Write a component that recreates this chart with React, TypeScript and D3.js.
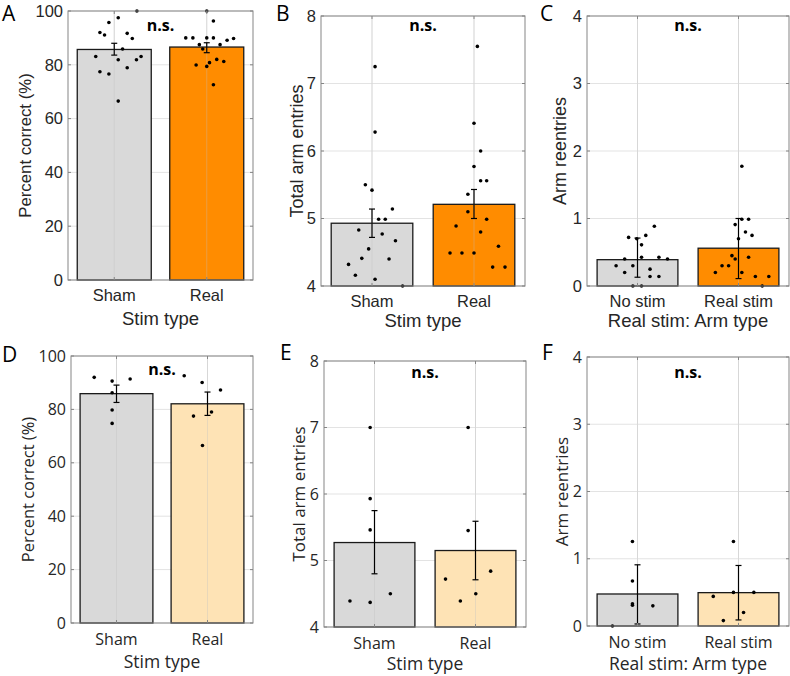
import React from 'react';
import * as d3 from 'd3';

// categories
const stimCats = ['Sham', 'Real'];
const armCats = ['No stim', 'Real stim'];

// A: percent correct, main cohort
const aMeans = [85.7, 86.6];
const aLow = [83.6, 84.5];
const aHigh = [88.0, 88.2];
const aSham = [100, 97.5, 95.7, 92, 91.1, 91.7, 89.8, 85.9, 83.1, 81.9, 81.9, 83.1, 77.4, 76.6, 78.9, 66.5];
const aShamJit = [0.245, 0.043, -0.058, -0.155, -0.105, 0.14, 0.195, 0.09, -0.2, 0.043, 0.24, 0.29, -0.155, -0.058, 0.14, 0.043];
const aReal = [100, 96.3, 90, 90, 90, 90, 89.1, 89.8, 87.5, 87.5, 85.9, 79.9, 79.4, 80.8, 82, 81.2, 72.6];
const aRealJit = [0, 0.072, -0.227, -0.15, 0, 0.072, 0.22, 0.29, -0.08, 0.144, -0.043, -0.115, 0, 0.03, 0.108, 0.184, 0.072];

// B: total arm entries, main cohort
const bMeans = [4.93, 5.21];
const bLow = [4.72, 5.0];
const bHigh = [5.14, 5.43];
const bSham = [7.25, 6.28, 5.5, 5.42, 5.14, 4.99, 4.99, 4.83, 4.77, 4.67, 4.55, 4.41, 4.4, 4.32, 4.16, 4.1, 4.0];
const bShamJit = [0.03, 0.03, -0.065, 0, 0.2, 0.065, 0.13, -0.13, 0.1, 0.23, -0.033, -0.1, 0.167, -0.23, -0.163, 0.03, 0.3];
const bReal = [7.55, 6.41, 6.0, 5.77, 5.56, 5.56, 5.36, 5.1, 4.89, 4.99, 4.8, 4.49, 4.49, 4.49, 4.59, 4.28, 4.28];
const bRealJit = [0.033, 0, 0.065, 0, 0.065, 0.124, -0.06, -0.06, -0.176, 0.124, 0.065, -0.235, -0.118, 0, 0.24, 0.183, 0.304];

// C: arm reentries, main cohort
const cMeans = [0.39, 0.56];
const cLow = [0.13, 0.11];
const cHigh = [0.71, 1.0];
const cNo = [0.885, 0.72, 0.7, 0.75, 0.61, 0.4, 0.425, 0.425, 0.4, 0.3, 0.3, 0.25, 0.2, 0.14, 0.14, 0, 0];
const cNoJit = [0.167, -0.088, -0.007, 0.082, 0.04, -0.127, 0.04, 0.212, 0.297, -0.212, -0.046, 0.124, -0.127, 0.124, 0.212, -0.046, 0.04];
const cReal = [1.775, 0.99, 0.99, 0.91, 0.8, 0.75, 0.7, 0.45, 0.4, 0.425, 0.3, 0.3, 0.2, 0.2, 0.14, 0.14, 0];
const cRealJit = [0.033, 0.033, 0.1, -0.033, 0.069, 0.134, 0, -0.065, -0.033, 0.1, -0.163, -0.098, -0.229, 0.033, 0.167, 0.3, 0.235];

// D: percent correct, second cohort
const dMeans = [85.9, 82.1];
const dLow = [82.6, 77.75];
const dHigh = [89.1, 86.5];
const dSham = [92, 90.6, 91.4, 86.25, 79.75, 74.75];
const dShamJit = [-0.245, -0.048, 0.15, -0.048, -0.048, -0.048];
const dReal = [92.6, 90.1, 87.25, 77.5, 79, 66.5];
const dRealJit = [-0.256, -0.059, 0.143, -0.154, 0.044, -0.055];

// E: total arm entries, second cohort
const eMeans = [5.27, 5.15];
const eLow = [4.8, 4.71];
const eHigh = [5.75, 5.59];
const eSham = [7.0, 5.93, 5.46, 4.5, 4.39, 4.37];
const eShamJit = [-0.043, -0.043, -0.043, 0.157, -0.243, -0.043];
const eReal = [7.0, 5.45, 4.84, 4.72, 4.5, 4.39];
const eRealJit = [-0.073, -0.073, 0.15, -0.297, 0.003, -0.15];

// F: arm reentries, second cohort
const fMeans = [0.476, 0.496];
const fLow = [0.03, 0.09];
const fHigh = [0.91, 0.9];
const fNo = [1.256, 0.67, 0.33, 0.31, 0.3, 0];
const fNoJit = [-0.05, -0.05, -0.05, -0.05, 0.152, -0.248];
const fReal = [1.256, 0.5, 0.5, 0.44, 0.2, 0.08];
const fRealJit = [-0.05, -0.05, 0.152, -0.25, 0.05, -0.15];

const pctTicks = [0, 20, 40, 60, 80, 100];
const entryTicks = [4, 5, 6, 7, 8];
const reentryTicks = [0, 1, 2, 3, 4];

const GRAY = '#d9d9d9';
const ORANGE = '#ff8c00';
const BEIGE = '#fee3b5';

type PanelProps = {
  letter: string;
  lx: number; ly: number;
  x0: number; x1: number; y0: number; y1: number;
  yDomain: [number, number];
  yTicks: number[];
  cats: string[];
  means: number[];
  low: number[];
  high: number[];
  pts: number[][];
  jit: number[][];
  fills: string[];
  ylabel: string;
  ylabelX: number;
  ylabelSize: number;
  xlabel: string;
  font: string;
  tickSize: number;
  labelSize: number;
  tickDy: number;
  labelDy: number;
  nsY: number;
};

function Panel(p: PanelProps) {
  const x = d3.scaleLinear().domain([0.5, 2.5]).range([p.x0, p.x1]);
  const y = d3.scaleLinear().domain(p.yDomain).range([p.y1, p.y0]);
  // bar width 0.8 category units
  const bw = x(1.3) - x(0.5);
  const tl = 3;
  const ink = '#262626';
  return (
    <g>
      {/* grid */}
      {p.yTicks.map((t) => (
        <line key={'gy' + t} x1={p.x0} x2={p.x1} y1={y(t)} y2={y(t)} stroke="#e3e3e3" strokeWidth={1} />
      ))}
      {[1, 2].map((c) => (
        <line key={'gx' + c} x1={x(c)} x2={x(c)} y1={p.y0} y2={p.y1} stroke="#e3e3e3" strokeWidth={1} />
      ))}
      {/* bars */}
      {p.means.map((m, i) => (
        <rect key={'b' + i} x={x(i + 1) - bw / 2} y={y(m)} width={bw} height={y(p.yDomain[0]) - y(m)}
          fill={p.fills[i]} stroke="#1a1a1a" strokeWidth={1.3} />
      ))}
      {/* gridlines show faintly through bars in the original */}
      {[1, 2].map((c) => (
        <line key={'gxo' + c} x1={x(c)} x2={x(c)} y1={p.y0} y2={p.y1} stroke="#bfbfbf" strokeOpacity={0.35} strokeWidth={1} />
      ))}
      {/* points */}
      {p.pts.map((arr, i) =>
        arr.map((v, j) => (
          <circle key={'p' + i + '-' + j} cx={x(i + 1 + p.jit[i][j])} cy={y(v)} r={1.8} fill="#000" />
        ))
      )}
      {/* error bars */}
      {p.means.map((_, i) => (
        <g key={'e' + i} stroke="#000" strokeWidth={1.2}>
          <line x1={x(i + 1)} x2={x(i + 1)} y1={y(p.low[i])} y2={y(p.high[i])} />
          <line x1={x(i + 1) - 3} x2={x(i + 1) + 3} y1={y(p.low[i])} y2={y(p.low[i])} />
          <line x1={x(i + 1) - 3} x2={x(i + 1) + 3} y1={y(p.high[i])} y2={y(p.high[i])} />
        </g>
      ))}
      {/* box and ticks */}
      <rect x={p.x0} y={p.y0} width={p.x1 - p.x0} height={p.y1 - p.y0} fill="none" stroke="#858585" strokeWidth={1} />
      {p.yTicks.map((t) => (
        <g key={'ty' + t} stroke="#858585">
          <line x1={p.x0} x2={p.x0 + tl} y1={y(t)} y2={y(t)} />
          <line x1={p.x1} x2={p.x1 - tl} y1={y(t)} y2={y(t)} />
        </g>
      ))}
      {[1, 2].map((c) => (
        <g key={'tx' + c} stroke="#858585">
          <line x1={x(c)} x2={x(c)} y1={p.y1} y2={p.y1 - tl} />
          <line x1={x(c)} x2={x(c)} y1={p.y0} y2={p.y0 + tl} />
        </g>
      ))}
      {/* tick labels */}
      {p.yTicks.map((t) => (
        <text key={'ly' + t} x={p.x0 - 5} y={y(t)} dy="0.35em" textAnchor="end"
          fontFamily={p.font} fontSize={p.tickSize} fill={ink}>{t}</text>
      ))}
      {p.cats.map((c, i) => (
        <text key={'lx' + i} x={x(i + 1)} y={p.y1 + p.tickDy} textAnchor="middle"
          fontFamily={p.font} fontSize={p.tickSize} fill={ink}>{c}</text>
      ))}
      <text x={(p.x0 + p.x1) / 2} y={p.y1 + p.labelDy} textAnchor="middle"
        fontFamily={p.font} fontSize={p.labelSize} fill={ink}>{p.xlabel}</text>
      <text transform={`translate(${p.ylabelX},${(p.y0 + p.y1) / 2}) rotate(-90)`} dy="0.35em" textAnchor="middle"
        fontFamily={p.font} fontSize={p.ylabelSize} fill={ink}>{p.ylabel}</text>
      <text x={x(1.5)} y={p.nsY} textAnchor="middle" fontFamily="'Open Sans', sans-serif"
        fontWeight="bold" fontSize={16} fill="#000">n.s.</text>
      <text x={p.lx} y={p.ly} fontFamily="'Open Sans', sans-serif" fontSize={21} fill="#000">{p.letter}</text>
    </g>
  );
}

export default function App() {
  const top = { font: "'Liberation Sans', Arial, sans-serif", tickSize: 16.5, labelSize: 18.5, ylabelSize: 18, tickDy: 21, labelDy: 45, nsY: 31 };
  const bot = { font: "'Open Sans', sans-serif", tickSize: 16, labelSize: 17.5, ylabelSize: 17, tickDy: 22, labelDy: 45 };
  return (
    <svg width={790} height={676} style={{ position: 'absolute', left: 0, top: 0, background: '#fff' }}>
      <Panel {...top} letter="A" lx={2} ly={21} x0={68} x1={253} y0={11} y1={280} yDomain={[0, 100]} yTicks={pctTicks}
        cats={stimCats} means={aMeans} low={aLow} high={aHigh} pts={[aSham, aReal]} jit={[aShamJit, aRealJit]}
        fills={[GRAY, ORANGE]} ylabel="Percent correct (%)" ylabelX={25} ylabelSize={16.8} xlabel="Stim type" />
      <Panel {...top} letter="B" lx={276} ly={21} x0={321} x1={525} y0={16} y1={286} yDomain={[4, 8]} yTicks={entryTicks}
        cats={stimCats} means={bMeans} low={bLow} high={bHigh} pts={[bSham, bReal]} jit={[bShamJit, bRealJit]}
        fills={[GRAY, ORANGE]} ylabel="Total arm entries" ylabelX={297} xlabel="Stim type" labelDy={41} />
      <Panel {...top} letter="C" lx={540} ly={21} x0={587} x1={789} y0={16} y1={286} yDomain={[0, 4]} yTicks={reentryTicks}
        cats={armCats} means={cMeans} low={cLow} high={cHigh} pts={[cNo, cReal]} jit={[cNoJit, cRealJit]}
        fills={[GRAY, ORANGE]} ylabel="Arm reentries" ylabelX={560} xlabel="Real stim: Arm type" labelDy={41} />
      <Panel {...bot} letter="D" lx={2} ly={362} x0={71} x1={253} y0={356} y1={623} yDomain={[0, 100]} yTicks={pctTicks}
        cats={stimCats} means={dMeans} low={dLow} high={dHigh} pts={[dSham, dReal]} jit={[dShamJit, dRealJit]}
        fills={[GRAY, BEIGE]} ylabel="Percent correct (%)" ylabelX={28} ylabelSize={16.5} xlabel="Stim type" nsY={375} />
      <Panel {...bot} letter="E" lx={280} ly={360} x0={324} x1={526} y0={361} y1={627} yDomain={[4, 8]} yTicks={entryTicks}
        cats={stimCats} means={eMeans} low={eLow} high={eHigh} pts={[eSham, eReal]} jit={[eShamJit, eRealJit]}
        fills={[GRAY, BEIGE]} ylabel="Total arm entries" ylabelX={299} xlabel="Stim type" labelDy={43} nsY={378} />
      <Panel {...bot} letter="F" lx={542} ly={360} x0={587} x1={789} y0={357} y1={626} yDomain={[0, 4]} yTicks={reentryTicks}
        cats={armCats} means={fMeans} low={fLow} high={fHigh} pts={[fNo, fReal]} jit={[fNoJit, fRealJit]}
        fills={[GRAY, BEIGE]} ylabel="Arm reentries" ylabelX={562} xlabel="Real stim: Arm type" labelDy={44} nsY={378} />
    </svg>
  );
}
